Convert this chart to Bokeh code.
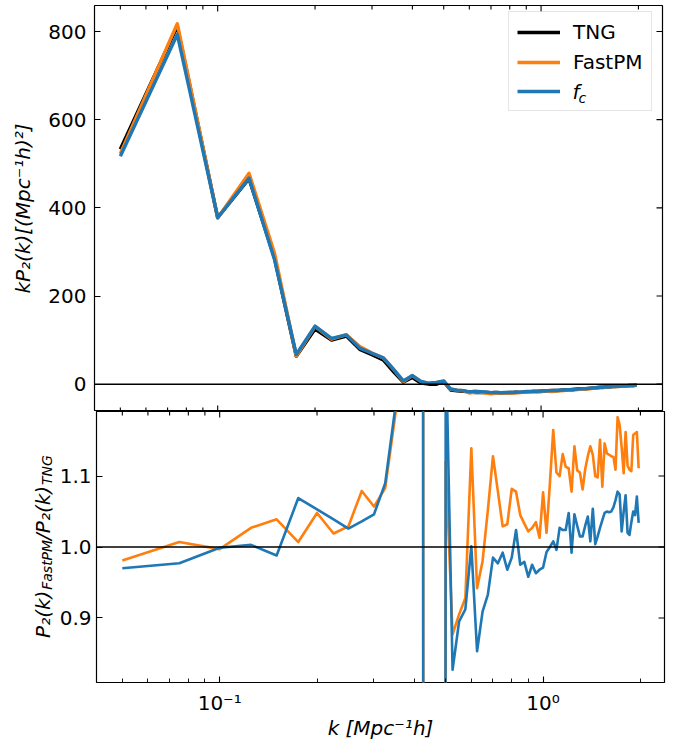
import math
from bokeh.plotting import figure
from bokeh.models import (Range1d, FixedTicker, LogAxis, LinearAxis, Span, Legend,
                          LegendItem, Label, CustomJSTickFormatter, NumeralTickFormatter,
                          ColumnDataSource)
from bokeh.core.properties import value
from bokeh.layouts import column, row
from bokeh.embed import file_html
from bokeh.resources import INLINE

# ---------------- data ----------------
k = [0.05, 0.075, 0.1, 0.125, 0.15, 0.175, 0.2, 0.225, 0.25, 0.275,
     0.3, 0.325, 0.35, 0.375, 0.4, 0.425, 0.45, 0.475, 0.5, 0.525,
     0.55, 0.575, 0.6, 0.625, 0.65, 0.675, 0.7, 0.725, 0.75, 0.775,
     0.8, 0.825, 0.85, 0.875, 0.9, 0.925, 0.95, 0.975, 1.0, 1.025,
     1.05, 1.075, 1.1, 1.125, 1.15, 1.175, 1.2, 1.225, 1.25, 1.275,
     1.3, 1.325, 1.35, 1.375, 1.4, 1.425, 1.45, 1.475, 1.5, 1.525,
     1.55, 1.575, 1.6, 1.625, 1.65, 1.675, 1.7, 1.725, 1.75, 1.775,
     1.8, 1.825, 1.85, 1.875, 1.9, 1.925, 1.95, 1.975]

kp2_tng = [533, 812, 378, 466, 285, 63, 125, 100, 109, 79,
           67, 55, 28, 4.7, 15, 2.5, -0.05, -0.25, 5.8, -13.3,
           -15, -16, -17.5, -19, -18.5, -19, -19.5, -19, -19.5, -19.5,
           -19, -18.5, -18.5, -18, -17.5, -17, -16.5, -16.5, -16, -15.5,
           -15, -14.5, -14.5, -14, -13.5, -13, -12.5, -12.5, -12, -11.5,
           -11, -10.5, -10, -10, -9.5, -9, -8.5, -8, -7.5, -7,
           -7, -6.5, -6, -6, -5.5, -5, -5, -4.5, -4.5, -4,
           -4, -3.5, -3.5, -3, -3, -3, -2.5, -2.5]

ratio_fastpm = [0.981, 1.007, 0.997, 1.027, 1.039, 1.007, 1.048, 1.019, 1.029, 1.079,
                1.057, 1.083, 1.19, 1.3, 1.3, 2.5, -40, -15, 1.12, 0.877,
                0.905, 0.928, 1.139, 0.942, 0.98, 1.052, 1.128, 1.078, 1.029, 1.032,
                1.082, 1.078, 1.045, 1.033, 1.022, 1.027, 1.035, 1.013, 1.077, 1.02,
                1.09, 1.165, 1.105, 1.10, 1.131, 1.113, 1.111, 1.078, 1.142, 1.108,
                1.105, 1.081, 1.11, 1.128, 1.142, 1.13, 1.10, 1.098, 1.151, 1.085,
                1.146, 1.132, 1.13, 1.128, 1.127, 1.109, 1.183, 1.172, 1.14, 1.104,
                1.162, 1.115, 1.109, 1.107, 1.158, 1.16, 1.162, 1.111]

ratio_fc = [0.970, 0.977, 0.999, 1.003, 0.988, 1.069, 1.053, 1.039, 1.026, 1.036,
            1.046, 1.09, 1.2, 1.6, 1.3, 2.5, -40, -15, 1.3, 0.827,
            0.895, 0.912, 1.001, 0.853, 0.909, 0.933, 0.985, 0.977, 0.992, 0.968,
            0.985, 1.024, 0.975, 0.979, 0.958, 0.975, 0.963, 0.968, 0.971, 0.993,
            1.0, 1.008, 0.996, 1.027, 1.024, 1.024, 1.048, 0.992, 1.046, 1.03,
            1.015, 1.015, 1.03, 1.043, 1.008, 1.054, 1.004, 1.015, 1.027, 1.038,
            1.048, 1.05, 1.049, 1.05, 1.056, 1.066, 1.078, 1.074, 1.022, 1.05,
            1.073, 1.02, 1.017, 1.035, 1.05, 1.045, 1.071, 1.034]

kp2_fastpm = [t * r for t, r in zip(kp2_tng, ratio_fastpm)]
kp2_fc = [t * r for t, r in zip(kp2_tng, ratio_fc)]

x_major_ticks = [0.1, 1.0]
x_minor_ticks = [0.05, 0.06, 0.07, 0.08, 0.09, 0.2, 0.3, 0.4, 0.5, 0.6, 0.7, 0.8, 0.9, 2.0]
top_y_ticks = [0, 200, 400, 600, 800]
bottom_y_ticks = [0.9, 1.0, 1.1]

series_names = ["TNG", "FastPM"]
BLACK = "black"
ORANGE = "#ff7f0e"
BLUE = "#1f77b4"
FONT = "DejaVu Sans"
FS = "20px"
FS_SUB = "14px"

# ---------------- helpers ----------------
def style_axis(ax):
    ax.axis_line_color = None
    ax.major_tick_in = 6
    ax.major_tick_out = 0
    ax.minor_tick_in = 4
    ax.minor_tick_out = 0
    ax.major_tick_line_color = "black"
    ax.major_tick_line_width = 1.1
    ax.minor_tick_line_color = "black"
    ax.minor_tick_line_width = 0.9
    ax.major_label_text_font = FONT
    ax.major_label_text_color = "black"
    ax.major_label_text_font_size = FS
    ax.axis_label_text_font = FONT
    ax.axis_label_text_font_size = FS
    ax.axis_label_text_font_style = "italic"
    ax.axis_label_text_color = "black"


def inner_ticks(p, xs, ys, length, angle):
    """Inward tick marks on frame sides that carry no labels."""
    p.ray(x=xs, y=ys, length=length, angle=angle, length_units="screen",
          line_color="black", line_width=1.1)


log_fmt = CustomJSTickFormatter(code="""
    return tick < 0.5 ? "10\u207b\u00b9" : "10\u2070";
""")

xr = Range1d(0.0416, 2.374)
yr_top = Range1d(-62, 859)
yr_bot = Range1d(0.809, 1.191)

common = dict(frame_width=568, x_axis_type="log", x_range=xr, output_backend="svg",
              toolbar_location=None, x_axis_location=None, y_axis_location=None,
              min_border_right=18, title=None,
              background_fill_color="white", border_fill_color="white")

xt_all = x_major_ticks + x_minor_ticks
xt_len = [6 if v in x_major_ticks else 4 for v in xt_all]

# ---------------- top panel ----------------
p1 = figure(frame_height=406, y_range=yr_top, min_border_left=94,
            min_border_top=5, min_border_bottom=0, **common)
p1.xgrid.visible = False
p1.ygrid.visible = False
p1.outline_line_color = "black"
p1.outline_line_width = 1.2

ax = LinearAxis(ticker=FixedTicker(ticks=top_y_ticks))
style_axis(ax)
ax.major_label_standoff = 8
ax.axis_label = "kP\u2082(k)[(Mpc\u207b\u00b9h)\u00b2]"
ax.axis_label_standoff = 10
p1.add_layout(ax, "left")

inner_ticks(p1, xt_all, [yr_top.end] * len(xt_all), xt_len, -math.pi / 2)
inner_ticks(p1, xt_all, [yr_top.start] * len(xt_all), xt_len, math.pi / 2)
inner_ticks(p1, [xr.end] * len(top_y_ticks), top_y_ticks, 6, math.pi)

src = ColumnDataSource(dict(k=k, tng=kp2_tng, fastpm=kp2_fastpm, fc=kp2_fc,
                            rf=ratio_fastpm, rc=ratio_fc))

r_tng = p1.line("k", "tng", source=src, line_color=BLACK, line_width=3.4, line_join="round")
r_fpm = p1.line("k", "fastpm", source=src, line_color=ORANGE, line_width=3.4, line_join="round")
r_fc = p1.line("k", "fc", source=src, line_color=BLUE, line_width=3.4, line_join="round")
p1.add_layout(Span(location=0, dimension="width", line_color="black", line_width=1.5))

legend = Legend(items=[LegendItem(label=series_names[0], renderers=[r_tng]),
                       LegendItem(label=series_names[1], renderers=[r_fpm]),
                       LegendItem(label=" ", renderers=[r_fc])],
                location=(414, 300), padding=8, spacing=6, glyph_width=43,
                glyph_height=22, label_height=22, label_standoff=13,
                label_text_font=FONT, label_text_font_size=FS, label_text_color="black",
                border_line_color="#cccccc", border_line_width=1,
                background_fill_alpha=0)
p1.add_layout(legend)
p1.add_layout(Label(x=478, y=320, x_units="screen", y_units="screen", text="f",
                    text_font=FONT, text_font_size=FS, text_font_style="italic",
                    text_color="black", text_baseline="middle"))
p1.add_layout(Label(x=484, y=314, x_units="screen", y_units="screen", text="c",
                    text_font=FONT, text_font_size=FS_SUB, text_font_style="italic",
                    text_color="black", text_baseline="middle"))

# ---------------- bottom panel ----------------
LW, LH = 56, 335
p2 = figure(frame_height=271, y_range=yr_bot, min_border_left=94 - LW,
            min_border_top=0, min_border_bottom=64, **common)
p2.xgrid.visible = False
p2.ygrid.visible = False
p2.outline_line_color = "black"
p2.outline_line_width = 1.2

ax = LinearAxis(ticker=FixedTicker(ticks=bottom_y_ticks),
                formatter=NumeralTickFormatter(format="0.0"))
style_axis(ax)
ax.major_label_standoff = 5
p2.add_layout(ax, "left")
ax = LogAxis(ticker=FixedTicker(ticks=x_major_ticks, minor_ticks=x_minor_ticks),
             formatter=log_fmt)
style_axis(ax)
ax.major_label_standoff = 8
ax.axis_label = "k [Mpc\u207b\u00b9h]"
ax.axis_label_standoff = -2
p2.add_layout(ax, "below")

inner_ticks(p2, xt_all, [yr_bot.end] * len(xt_all), xt_len, -math.pi / 2)
inner_ticks(p2, [xr.end] * len(bottom_y_ticks), bottom_y_ticks, 6, math.pi)

p2.line("k", "rf", source=src, line_color=ORANGE, line_width=2.6, line_join="round")
p2.line("k", "rc", source=src, line_color=BLUE, line_width=2.6, line_join="round")
p2.add_layout(Span(location=1.0, dimension="width", line_color="black", line_width=1.5))

# ---------------- y label of the bottom panel (with subscripts) ----------------
lab = figure(frame_width=LW, frame_height=LH, min_border=0, min_border_left=0,
             min_border_right=0, min_border_top=0, min_border_bottom=0,
             x_axis_location=None, y_axis_location=None, toolbar_location=None,
             title=None, output_backend="svg",
             x_range=Range1d(0, LW), y_range=Range1d(0, LH),
             outline_line_color=None, background_fill_color="white",
             border_fill_color="white")
lab.xgrid.visible = False
lab.ygrid.visible = False
lab.text(x=[42.7, 42.7], y=[108.6, 206.6], text=["P\u2082(k)", "/P\u2082(k)"],
         angle=math.pi / 2, text_font=value(FONT), text_font_size=value(FS),
         text_font_style="italic", text_color="black",
         text_align="left", text_baseline="alphabetic")
lab.text(x=[46.7, 46.7], y=[156.7, 261.5], text=["FastPM", "TNG"],
         angle=math.pi / 2, text_font=value(FONT), text_font_size=value(FS_SUB),
         text_font_style="italic", text_color="black",
         text_align="left", text_baseline="alphabetic")

layout = column(p1, row(lab, p2, spacing=0), spacing=0)
open("out.html", "w").write(file_html(layout, INLINE))
